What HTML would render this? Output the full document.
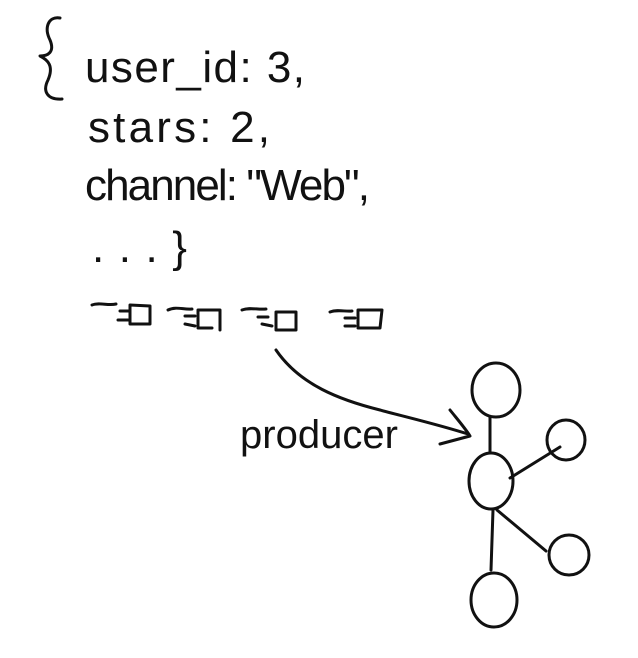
<!DOCTYPE html>
<html><head><meta charset="utf-8"><style>
html,body{margin:0;padding:0;background:#fff;width:638px;height:658px;overflow:hidden}
text{font-family:"Liberation Sans",sans-serif;fill:#111}
</style></head><body>
<svg width="638" height="658" viewBox="0 0 638 658" fill="none" stroke="#111" stroke-width="3" stroke-linecap="round" stroke-linejoin="round">
<g>
<path d="M60 18 C48 16 44 28 50 40 C55 52 48 56 40 56 C48 60 54 66 48 80 C42 92 48 100 62 99"/>
<text x="85" y="82" font-size="44" textLength="220" stroke="none">user_id: 3,</text>
<text x="88" y="142" font-size="44" textLength="182" stroke="none">stars: 2,</text>
<text x="85" y="200" font-size="44" textLength="285" stroke="none">channel: "Web",</text>
<text x="92" y="262" font-size="44" textLength="95" stroke="none">...}</text>
</g>
<g>
<g><path d="M92 305 C100 302 108 306 116 304 M120 311 L130 311 M118 320 L128 320 M130 305 L150 306 L150 324 L130 324 Z"/></g>
<g><path d="M168 310 C176 306 184 310 192 309 M185 316 L195 316 M185 324 L195 326 M198 310 L220 310 L220 330 M198 310 L198 328 L212 328"/></g>
<g><path d="M242 310 C250 307 258 310 266 309 M258 317 L268 317 M262 324 L272 326 M276 312 L296 312 L296 330 L276 330 Z"/></g>
<g><path d="M330 312 C338 309 346 312 352 311 M345 318 L355 318 M345 326 L355 326 M358 310 L382 310 L380 328 L358 328 Z"/></g>
</g>
<path d="M276 350 C300 385 340 400 380 410 C410 418 440 425 468 434"/>
<path d="M450 410 C458 420 465 428 470 436 L440 444"/>
<text x="240" y="448" font-size="40" textLength="158" stroke="none">producer</text>
<g>
<path d="M490 417 L490 452"/>
<path d="M510 478 L560 447"/>
<path d="M497 510 L546 551"/>
<path d="M493 510 L491 570"/>
<ellipse cx="496" cy="390" rx="24" ry="27"/>
<ellipse cx="491" cy="481" rx="22" ry="28"/>
<ellipse cx="566" cy="440" rx="19" ry="20"/>
<ellipse cx="569" cy="555" rx="20" ry="20"/>
<ellipse cx="494" cy="600" rx="23" ry="27"/>
</g>
</svg>
</body></html>
